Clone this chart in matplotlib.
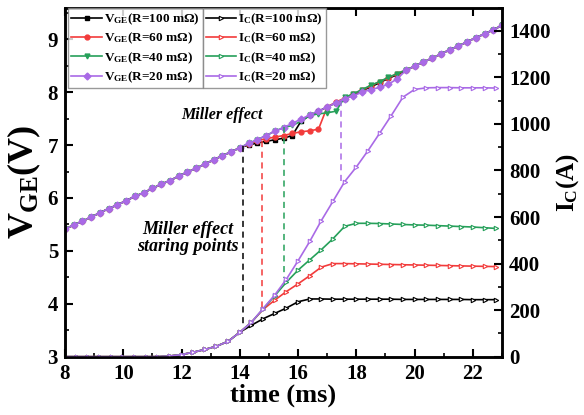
import numpy as np
import matplotlib
matplotlib.use('Agg')
import matplotlib.pyplot as plt
from matplotlib.ticker import MultipleLocator

plt.rcParams['font.family'] = ['Liberation Serif', 'DejaVu Serif']
plt.rcParams['font.weight'] = 'bold'
plt.rcParams['mathtext.default'] = 'regular'

# time base of the measurements
t_v = np.round(np.arange(8.0, 23.01, 0.3), 2)   # V_GE samples
t_i = np.round(np.arange(8.0, 22.81, 0.4), 2)   # I_C samples

# gate-emitter voltage (V)
vge_100 = [5.41, 5.49, 5.56, 5.64, 5.72, 5.80, 5.87, 5.95, 6.03, 6.10,
           6.18, 6.26, 6.33, 6.41, 6.49, 6.56, 6.64, 6.72, 6.80, 6.87,
           6.95, 7.00, 7.04, 7.07, 7.10, 7.13, 7.18, 7.45, 7.56, 7.64,
           7.72, 7.80, 7.87, 7.95, 8.03, 8.10, 8.18, 8.26, 8.33, 8.41,
           8.49, 8.57, 8.64, 8.72, 8.80, 8.87, 8.95, 9.03, 9.10, 9.18, 9.26]
vge_60 = [5.41, 5.49, 5.56, 5.64, 5.72, 5.80, 5.87, 5.95, 6.03, 6.10,
          6.18, 6.26, 6.33, 6.41, 6.49, 6.56, 6.64, 6.72, 6.80, 6.87,
          6.95, 7.02, 7.08, 7.12, 7.15, 7.18, 7.22, 7.25, 7.27, 7.30,
          7.72, 7.81, 7.89, 7.97, 8.04, 8.12, 8.20, 8.27, 8.35, 8.42,
          8.49, 8.57, 8.64, 8.72, 8.80, 8.87, 8.95, 9.03, 9.10, 9.18, 9.26]
vge_40 = [5.41, 5.49, 5.56, 5.64, 5.72, 5.80, 5.87, 5.95, 6.03, 6.10,
          6.18, 6.26, 6.33, 6.41, 6.49, 6.56, 6.64, 6.72, 6.80, 6.87,
          6.95, 7.03, 7.10, 7.18, 7.26, 7.33, 7.37, 7.45, 7.56, 7.59,
          7.61, 7.64, 7.90, 7.97, 8.05, 8.13, 8.20, 8.28, 8.35, 8.42,
          8.49, 8.57, 8.64, 8.72, 8.80, 8.87, 8.95, 9.03, 9.10, 9.18, 9.26]
vge_20 = [5.41, 5.49, 5.56, 5.64, 5.72, 5.80, 5.87, 5.95, 6.03, 6.10,
          6.18, 6.26, 6.33, 6.41, 6.49, 6.56, 6.64, 6.72, 6.80, 6.87,
          6.95, 7.03, 7.10, 7.18, 7.26, 7.33, 7.41, 7.49, 7.57, 7.64,
          7.72, 7.80, 7.88, 7.93, 8.00, 8.05, 8.09, 8.15, 8.25, 8.41,
          8.49, 8.57, 8.64, 8.72, 8.80, 8.87, 8.95, 9.03, 9.10, 9.18, 9.26]

# collector current (A)
ic_100 = [0, 0, 0, 0, 0, 0, 0, 0, 0, 3, 9, 19, 31, 45, 66, 105,
          135, 163, 186, 209, 236, 248, 248, 247, 247, 247, 247, 247,
          247, 246, 246, 246, 246, 246, 246, 245, 245, 245]
ic_60 = [0, 0, 0, 0, 0, 0, 0, 0, 0, 3, 9, 19, 31, 45, 66, 105,
         148, 203, 243, 280, 313, 348, 385, 400, 400, 399, 398, 397,
         396, 395, 394, 393, 392, 391, 390, 389, 388, 387]
ic_40 = [0, 0, 0, 0, 0, 0, 0, 0, 0, 3, 9, 19, 31, 45, 66, 105,
         148, 205, 262, 320, 372, 416, 460, 507, 560, 573, 573, 572,
         570, 568, 566, 565, 563, 561, 559, 557, 554, 551]
ic_20 = [0, 0, 0, 0, 0, 0, 0, 0, 0, 3, 9, 19, 31, 45, 66, 105,
         148, 207, 265, 333, 412, 495, 585, 668, 752, 815, 885, 960,
         1036, 1115, 1148, 1155, 1156, 1156, 1155, 1155, 1155, 1154]

# Miller effect starting points: time, V_GE at start, I_C where the dash ends
miller_t = [14.1, 14.77, 15.53, 17.47]
miller_v = [6.98, 7.08, 7.35, 7.85]
miller_i = [140, 205, 336, 745]

labels_r = ['100', '60', '40', '20']
colors = ['#000000', '#f23b3b', '#26a05a', '#a96ae6']
v_markers = ['s', 'o', 'v', 'D']
vge_all = [vge_100, vge_60, vge_40, vge_20]
ic_all = [ic_100, ic_60, ic_40, ic_20]

VMIN, VMAX = 3, 9.6
IMIN, IMAX = 0, 1500

fig = plt.figure(figsize=(5.84, 4.15), dpi=100)
ax = fig.add_axes([0.1113, 0.1405, 0.7483, 0.8414])
ax2 = ax.twinx()

v_handles = []
i_handles = []
for vg, ic, r, c, m in zip(vge_all, ic_all, labels_r, colors, v_markers):
    h, = ax.plot(t_v, vg, color=c, marker=m, ms=3.5, lw=1.2,
                 label=r'V$_{\mathregular{GE}}$(R=%s mΩ)' % r)
    v_handles.append(h)
    h2, = ax2.plot(t_i, ic, color=c, marker='>', ms=3.2, lw=1.2, mfc='white',
                   mew=0.8, label=r'I$_{\mathregular{C}}$(R=%s mΩ)' % r)
    i_handles.append(h2)

# dashed markers from V_GE plateau start down to the current curve
for t0, v0, i0, c in zip(miller_t, miller_v, miller_i, colors):
    v_end = VMIN + (i0 - IMIN) * (VMAX - VMIN) / (IMAX - IMIN)
    ax.plot([t0, t0], [v0, v_end], color=c, lw=1.1, ls=(0, (4, 3)))

ax.set_xlim(8, 23)
ax.set_ylim(VMIN, VMAX)
ax2.set_ylim(IMIN, IMAX)

ax.xaxis.set_major_locator(MultipleLocator(2))
ax.xaxis.set_minor_locator(MultipleLocator(1))
ax.yaxis.set_major_locator(MultipleLocator(1))
ax.yaxis.set_minor_locator(MultipleLocator(0.5))
ax2.yaxis.set_major_locator(MultipleLocator(200))
ax2.yaxis.set_minor_locator(MultipleLocator(100))

ax.tick_params(which='major', direction='in', length=6, width=1.5, labelsize=15,
               top=True, right=False, pad=5)
ax.tick_params(which='minor', direction='in', length=3, width=1.2, top=False, right=False)
ax2.tick_params(which='major', direction='in', length=6, width=1.5, labelsize=15, pad=5)
ax2.tick_params(which='minor', direction='in', length=3, width=1.2)

for sp in ax.spines.values():
    sp.set_linewidth(1.8)
for sp in ax2.spines.values():
    sp.set_linewidth(1.8)

ax.set_xlabel('time (ms)', fontsize=19, fontweight='bold', labelpad=0)
ax.set_ylabel(r'V$_{\mathregular{GE}}$(V)', fontsize=26, fontweight='bold', labelpad=3)
ax2.set_ylabel(r'I$_{\mathregular{C}}$(A)', fontsize=18, fontweight='bold', labelpad=3)

ax.text(13.4, 7.56, 'Miller effect', fontsize=11.5, fontweight='bold',
        style='italic', ha='center', va='center')
ax.text(12.2, 5.25, 'Miller effect\nstaring points', fontsize=13, fontweight='bold',
        style='italic', ha='center', va='center', linespacing=1.0)

leg_kw = dict(fontsize=9.5, frameon=True, fancybox=False, edgecolor='#808080',
              handlelength=2.3, handletextpad=0.15, labelspacing=0.3,
              borderpad=0.25, borderaxespad=0, loc='upper left')
leg1 = ax2.legend(handles=v_handles, bbox_to_anchor=(0.007, 0.998), **leg_kw)
leg1.get_frame().set_linewidth(1.0)
ax2.add_artist(leg1)

# second legend box sits right against the first one
fig.canvas.draw()
bb = leg1.get_window_extent().transformed(ax2.transAxes.inverted())
leg2 = ax2.legend(handles=i_handles, bbox_to_anchor=(bb.x1, 0.998), **leg_kw)
leg2.get_frame().set_linewidth(1.0)

fig.savefig('out.png', dpi=100)
